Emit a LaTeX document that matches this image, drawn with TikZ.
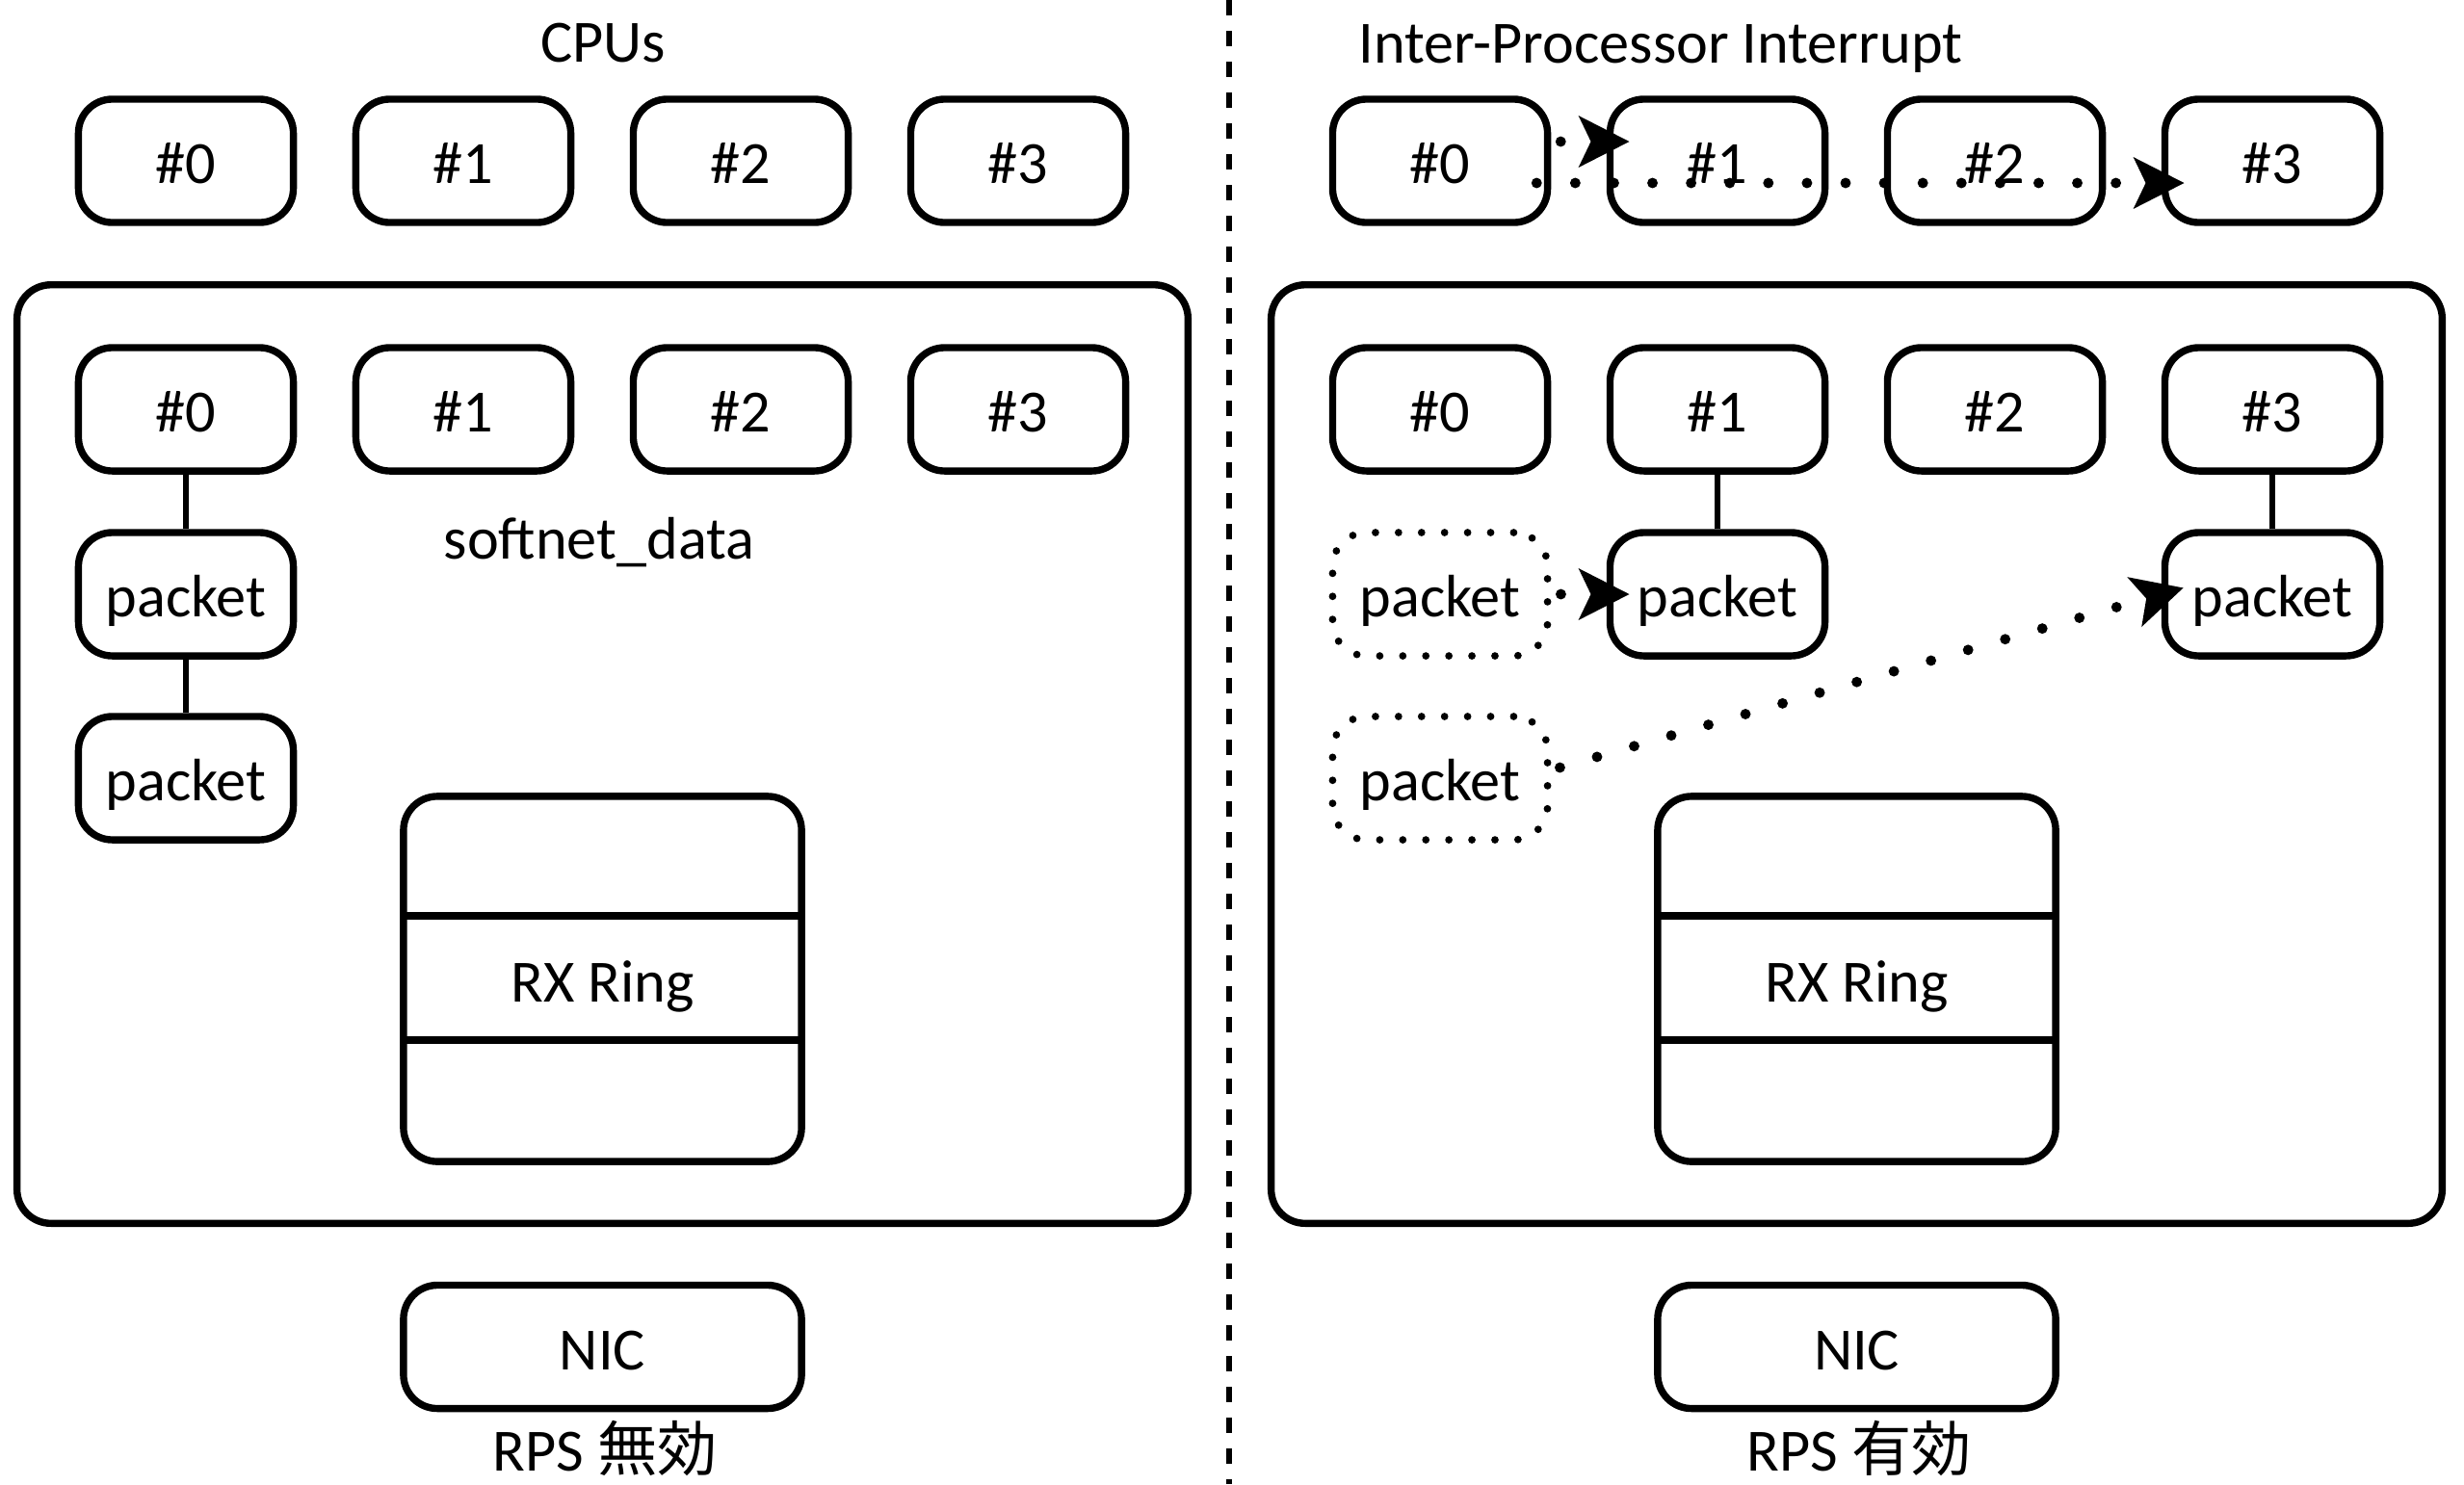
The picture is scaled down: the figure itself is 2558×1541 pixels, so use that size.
\documentclass[tikz,border=0pt]{standalone}
\usepackage{fontspec}
\setmainfont{Carlito}
\newfontfamily\jpfont{Noto Sans CJK JP}
\usetikzlibrary{arrows.meta,calc}

\begin{document}
\begin{tikzpicture}[x=0.01cm,y=-0.01cm,
  every node/.style={font=\fontsize{17.7}{21}\selectfont, inner sep=0pt},
  box/.style={draw, line width=2.1pt, rounded corners=10pt,
    minimum width=2.23cm, minimum height=1.28cm, text height=13.5pt, text depth=0pt},
  ghost/.style={box, line width=2.2pt, line cap=round, dash pattern=on 0pt off 6.8pt},
  frame/.style={draw, line width=2.1pt, rounded corners=10pt,
    minimum width=12.15cm, minimum height=9.74cm},
  ring/.style={draw, line width=2.1pt, rounded corners=10pt,
    minimum width=4.13cm, minimum height=3.79cm, text height=13.5pt, text depth=0pt},
  link/.style={line width=1.8pt},
  ipi/.style={line width=3.1pt, line cap=round, dash pattern=on 0pt off 11.4pt,
    -{Stealth[length=14.8pt,width=14.8pt,inset=3.4pt]}, shorten >=-6.8pt},
  label/.style={anchor=base}
]
\useasboundingbox (0,0) rectangle (2558,1541);

% separator between the two halves
\draw[line width=1.8pt, dash pattern=on 4.6pt off 4.5pt] (1276,0) -- (1276,1541);

% ---------- left half: RPS disabled ----------
\node[label] (cpus) at (626,64) {CPUs};
\foreach \i/\x in {0/193,1/481,2/769,3/1057}{
  \node[box] (tl\i) at (\x,167) {\#\i};
}
\node[frame] (fl) at (625.5,783) {};
\foreach \i/\x in {0/193,1/481,2/769,3/1057}{
  \node[box] (ml\i) at (\x,425) {\#\i};
}
\node[label] (sd) at (622,580) {softnet\_data};
\node[box] (pl1) at (193,617) {packet};
\node[box] (pl2) at (193,808) {packet};
\draw[link] (ml0.south) -- (pl1.north);
\draw[link] (pl1.south) -- (pl2.north);

\node[ring] (rl) at (625.5,1016.5) {RX Ring};
\draw[line width=2.1pt] (rl.west |- 0,951) -- (rl.east |- 0,951);
\draw[line width=2.1pt] (rl.west |- 0,1080) -- (rl.east |- 0,1080);

\node[box, minimum width=4.13cm] (nl) at (625.5,1398.5) {NIC};
\node[label] (rpsl) at (628,1527) {RPS {\jpfont 無効}};

% ---------- right half: RPS enabled ----------
\node[label, anchor=base west] (ipit) at (1410,65) {Inter-Processor Interrupt};
\foreach \i/\x in {0/1495,1/1783,2/2071,3/2359}{
  \node[box] (tr\i) at (\x,167) {\#\i};
}
\node[frame] (fr) at (1927.5,783) {};
\foreach \i/\x in {0/1495,1/1783,2/2071,3/2359}{
  \node[box] (mr\i) at (\x,425) {\#\i};
}
\node[ghost] (g1) at (1495,617) {packet};
\node[ghost] (g2) at (1495,808) {packet};
\node[box] (pr1) at (1783,617) {packet};
\node[box] (pr3) at (2359,617) {packet};
\draw[link] (mr1.south) -- (pr1.north);
\draw[link] (mr3.south) -- (pr3.north);

\node[ring] (rr) at (1927.5,1016.5) {RX Ring};
\draw[line width=2.1pt] (rr.west |- 0,951) -- (rr.east |- 0,951);
\draw[line width=2.1pt] (rr.west |- 0,1080) -- (rr.east |- 0,1080);

\node[box, minimum width=4.13cm] (nr) at (1927.5,1398.5) {NIC};
\node[label] (rpsr) at (1930,1527) {RPS {\jpfont 有効}};

% inter-processor interrupts
\draw[ipi] ($(tr0.east)+(10,-20)$) -- ($(tr1.west)+(0,-20)$);
\draw[ipi] ($(tr0.east)+(-15,23)$) -- ($(tr3.west)+(0,23)$);

% packets handed over to other CPUs
\draw[ipi] ($(g1.east)+(10,0)$) -- (pr1.west);
\draw[ipi] ($(g2.east)+(9,-11)$) -- (pr3.west);
\end{tikzpicture}
\end{document}
